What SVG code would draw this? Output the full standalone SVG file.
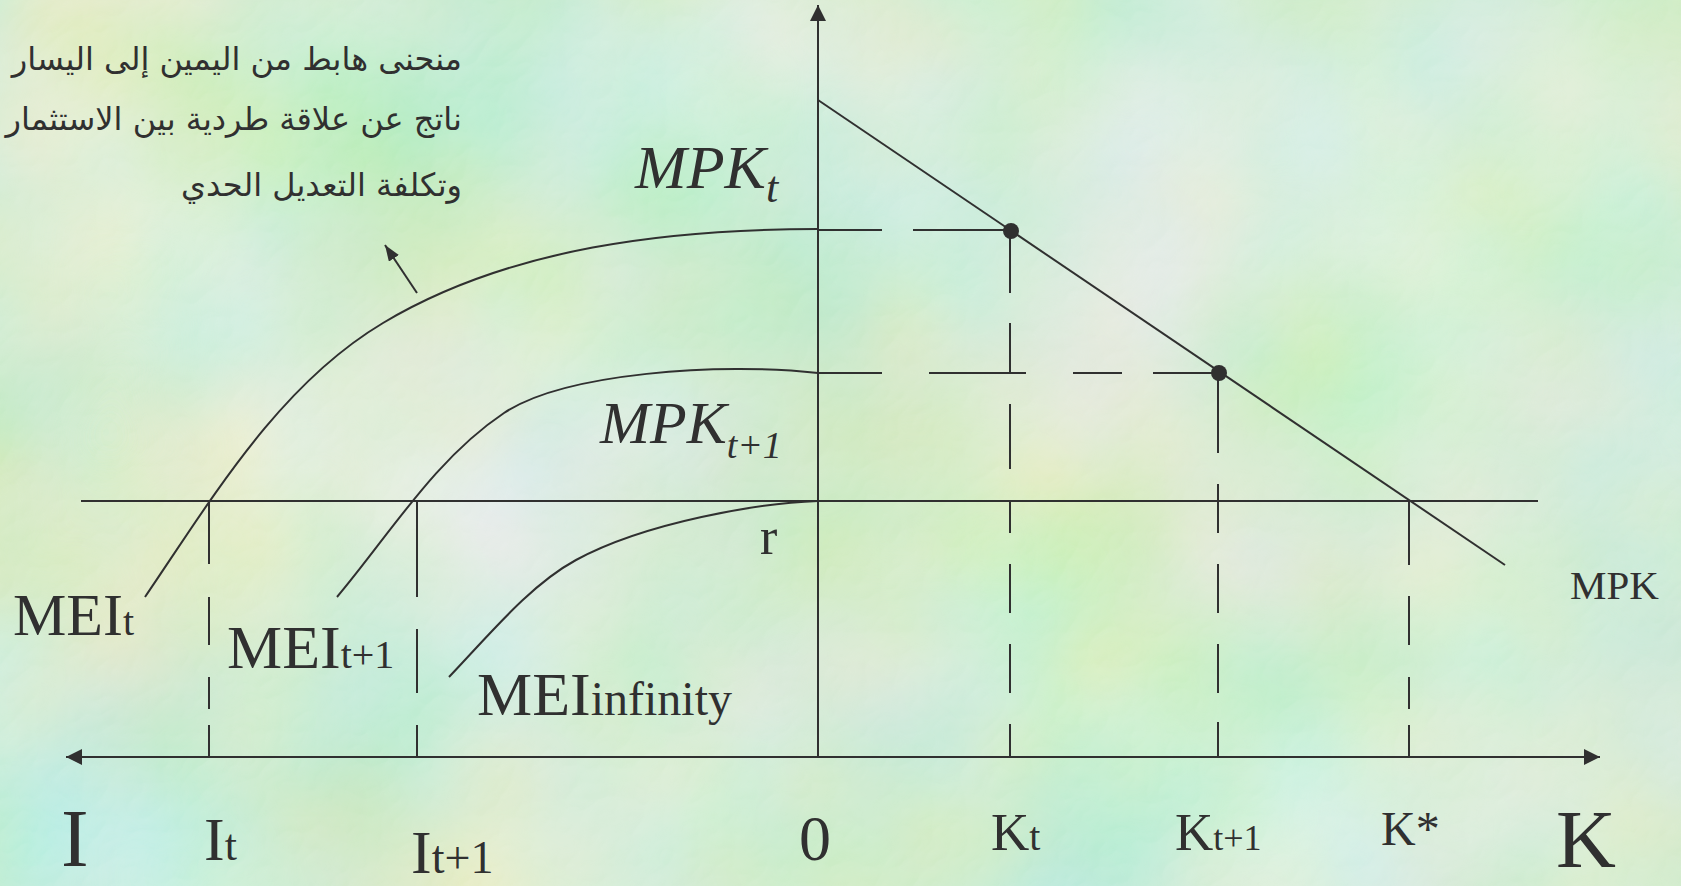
<svg xmlns="http://www.w3.org/2000/svg" width="1681" height="886" viewBox="0 0 1681 886">
<defs>
<style>
.ln{fill:none;stroke:#303030;stroke-width:2;stroke-linecap:butt}
.tx{font-family:"Liberation Serif","Times New Roman",serif;fill:#303030}
.it{font-style:italic}
.ar{font-family:"DejaVu Sans",sans-serif;fill:#303030;font-size:32px}
</style>
<filter id="blobs" x="0" y="0" width="1681" height="886" filterUnits="userSpaceOnUse">
<feTurbulence type="fractalNoise" baseFrequency="0.0032" numOctaves="3" seed="11"/>
<feColorMatrix type="matrix" values="0.5 0 0 0 0.39  0 0.12 0 0 0.78  0 0 0.5 0 0.39  0 0 0 0 1"/>
</filter>
<filter id="tex" x="0" y="0" width="1681" height="886" filterUnits="userSpaceOnUse">
<feTurbulence type="turbulence" baseFrequency="0.03" numOctaves="2" seed="4" result="n"/>
<feDiffuseLighting in="n" surfaceScale="2.5" lighting-color="#ffffff" diffuseConstant="1" result="l"><feDistantLight azimuth="235" elevation="55"/></feDiffuseLighting>
<feColorMatrix in="l" type="matrix" values="0 0 0 0 1  0 0 0 0 1  0 0 0 0 1  1.2 0 0 0 -0.75"/>
</filter>
<marker id="ah" viewBox="0 0 16 16" refX="16" refY="8" markerWidth="16" markerHeight="16" markerUnits="userSpaceOnUse" orient="auto">
<path d="M0,0 L16,8 L0,16 Z" fill="#303030"/>
</marker>
<marker id="ahs" viewBox="0 0 16 12" refX="16" refY="6" markerWidth="16" markerHeight="12" markerUnits="userSpaceOnUse" orient="auto">
<path d="M0,0 L16,6 L0,12 Z" fill="#303030"/>
</marker>
</defs>

<g id="background">
<rect width="1681" height="886" fill="#a8d4b0"/>
<rect width="1681" height="886" filter="url(#blobs)"/>
<rect width="1681" height="886" filter="url(#tex)" opacity="0.2"/>
</g>

<g id="connectors">
<line class="ln" x1="818" y1="757" x2="818" y2="5" marker-end="url(#ah)"/>
<line class="ln" x1="818" y1="757" x2="66" y2="757" marker-end="url(#ah)"/>
<line class="ln" x1="818" y1="757" x2="1600" y2="757" marker-end="url(#ah)"/>
<line class="ln" x1="81" y1="501" x2="1538" y2="501"/>
<line class="ln" x1="818" y1="100" x2="1505" y2="565"/>
<path class="ln" d="M145,597 C213,497 279,385 383,323 C510,247 670,229 818,229"/>
<path class="ln" d="M337,597 C390,534 435,459 504,413 C564,373 720,362 818,373"/>
<path class="ln" d="M449,677 C490,634 530,585 576,560 C646,522 760,503 818,501"/>
<path class="ln" d="M818,230 H882 M913,230 H1011"/>
<path class="ln" d="M818,373 H882 M929,373 H1026 M1073,373 H1122 M1153,373 H1219"/>
<path class="ln" d="M1010,231 V293 M1010,323 V373 M1010,404 V469 M1010,501 V533 M1010,564 V613 M1010,644 V693 M1010,724 V757"/>
<path class="ln" d="M1218,374 V453 M1218,484 V533 M1218,564 V613 M1218,644 V693 M1218,722 V757"/>
<path class="ln" d="M1409,501 V565 M1409,596 V645 M1409,677 V709 M1409,725 V757"/>
<path class="ln" d="M209,501 V564 M209,597 V645 M209,677 V709 M209,725 V757"/>
<path class="ln" d="M417,501 V597 M417,629 V693 M417,725 V757"/>
<line class="ln" x1="417" y1="293" x2="385" y2="245" marker-end="url(#ahs)"/>
</g>

<g id="points">
<circle cx="1011" cy="231" r="8" fill="#303030"/>
<circle cx="1219" cy="373" r="8" fill="#303030"/>
</g>

<g id="note">
<text class="ar" direction="rtl" text-anchor="start" x="462" y="70">منحنى هابط من اليمين إلى اليسار</text>
<text class="ar" direction="rtl" text-anchor="start" x="462" y="130">ناتج عن علاقة طردية بين الاستثمار</text>
<text class="ar" direction="rtl" text-anchor="start" x="462" y="196">وتكلفة التعديل الحدي</text>
</g>

<g id="label-mpkt"><text class="tx it" x="635" y="188" font-size="62">MPK<tspan font-size="44" dy="14">t</tspan></text></g>
<g id="label-mpkt1"><text class="tx it" x="600" y="443" font-size="60">MPK<tspan font-size="38" dy="15">t+1</tspan></text></g>
<g id="label-r"><text class="tx" x="760" y="554" font-size="52">r</text></g>
<g id="label-mpk"><text class="tx" x="1570" y="599" font-size="41">MPK</text></g>
<g id="label-meit"><text class="tx" x="13" y="635" font-size="60">MEI<tspan font-size="40">t</tspan></text></g>
<g id="label-meit1"><text class="tx" x="227" y="668" font-size="62">MEI<tspan font-size="40">t+1</tspan></text></g>
<g id="label-meiinf"><text class="tx" x="477" y="715" font-size="62">MEI<tspan font-size="48">infinity</tspan></text></g>
<g id="label-I"><text class="tx" x="61" y="866" font-size="83">I</text></g>
<g id="label-It"><text class="tx" x="204" y="860" font-size="62">I<tspan font-size="44">t</tspan></text></g>
<g id="label-It1"><text class="tx" x="411" y="873" font-size="62">I<tspan font-size="46">t+1</tspan></text></g>
<g id="label-0"><text class="tx" x="799" y="860" font-size="64">0</text></g>
<g id="label-Kt"><text class="tx" x="991" y="850" font-size="53">K<tspan font-size="40">t</tspan></text></g>
<g id="label-Kt1"><text class="tx" x="1175" y="850" font-size="53">K<tspan font-size="36">t+1</tspan></text></g>
<g id="label-Kstar"><text class="tx" x="1381" y="845" font-size="48">K*</text></g>
<g id="label-K"><text class="tx" x="1556" y="867" font-size="83">K</text></g>
</svg>
